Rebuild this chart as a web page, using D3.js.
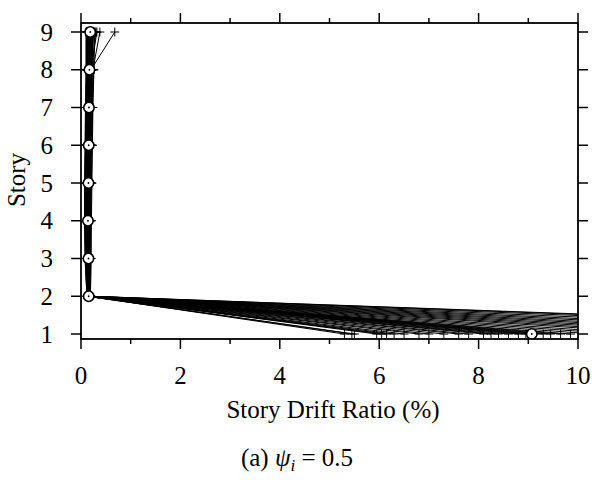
<!DOCTYPE html>
<html>
<head>
<meta charset="utf-8">
<script src="https://cdn.jsdelivr.net/npm/d3@7"></script>
<style>
  html, body { margin: 0; padding: 0; background: #fff; overflow: hidden; }
  svg { display: block; }
  svg text, svg tspan { font-family: "Liberation Serif", "Times New Roman", serif; }
</style>
</head>
<body>
<script>
// Story numbers (1 = ground story)
const stories = [1, 2, 3, 4, 5, 6, 7, 8, 9];

// Peak story drift ratio (%) per ground motion, stories 1..9
const drifts = [
  [5.30, 0.14, 0.12, 0.11, 0.12, 0.13, 0.14, 0.15, 0.16],
  [21.2, 0.18, 0.17, 0.16, 0.17, 0.18, 0.19, 0.21, 0.25],
  [8.10, 0.15, 0.13, 0.12, 0.13, 0.14, 0.15, 0.16, 0.17],
  [13.6, 0.17, 0.16, 0.15, 0.16, 0.18, 0.19, 0.20, 0.22],
  [6.30, 0.13, 0.10, 0.09, 0.10, 0.11, 0.12, 0.13, 0.14],
  [9.45, 0.16, 0.15, 0.14, 0.15, 0.16, 0.17, 0.18, 0.19],
  [7.30, 0.14, 0.12, 0.11, 0.12, 0.13, 0.14, 0.15, 0.15],
  [11.3, 0.17, 0.16, 0.15, 0.16, 0.17, 0.18, 0.20, 0.32],
  [5.95, 0.12, 0.09, 0.08, 0.08, 0.09, 0.10, 0.11, 0.12],
  [15.0, 0.18, 0.18, 0.17, 0.18, 0.19, 0.20, 0.22, 0.24],
  [8.60, 0.15, 0.14, 0.14, 0.15, 0.16, 0.17, 0.18, 0.20],
  [10.3, 0.16, 0.15, 0.15, 0.16, 0.17, 0.18, 0.19, 0.21],
  [6.80, 0.13, 0.11, 0.10, 0.10, 0.11, 0.12, 0.12, 0.13],
  [18.0, 0.19, 0.19, 0.18, 0.19, 0.20, 0.22, 0.24, 0.38],
  [9.12, 0.16, 0.15, 0.14, 0.14, 0.15, 0.15, 0.16, 0.17],
  [7.80, 0.14, 0.13, 0.12, 0.13, 0.14, 0.15, 0.16, 0.16],
  [12.4, 0.17, 0.17, 0.16, 0.16, 0.17, 0.18, 0.19, 0.20],
  [5.45, 0.12, 0.08, 0.07, 0.07, 0.08, 0.09, 0.10, 0.10],
  [9.85, 0.16, 0.16, 0.15, 0.15, 0.16, 0.17, 0.17, 0.18],
  [8.95, 0.15, 0.15, 0.14, 0.15, 0.15, 0.16, 0.17, 0.19],
  [16.8, 0.18, 0.19, 0.19, 0.20, 0.21, 0.23, 0.25, 0.28],
  [6.05, 0.13, 0.10, 0.09, 0.09, 0.10, 0.11, 0.11, 0.12],
  [14.3, 0.18, 0.17, 0.17, 0.18, 0.19, 0.20, 0.21, 0.23],
  [7.60, 0.14, 0.12, 0.12, 0.13, 0.13, 0.14, 0.15, 0.15],
  [9.65, 0.16, 0.15, 0.15, 0.16, 0.16, 0.17, 0.18, 0.20],
  [8.40, 0.15, 0.14, 0.13, 0.14, 0.15, 0.16, 0.16, 0.17],
  [19.4, 0.19, 0.20, 0.20, 0.21, 0.22, 0.23, 0.20, 0.68],
  [5.50, 0.12, 0.09, 0.08, 0.09, 0.09, 0.10, 0.11, 0.11],
  [11.9, 0.17, 0.16, 0.16, 0.17, 0.18, 0.19, 0.20, 0.22],
  [7.00, 0.14, 0.11, 0.10, 0.11, 0.12, 0.13, 0.13, 0.14],
  [9.02, 0.15, 0.14, 0.14, 0.14, 0.15, 0.16, 0.16, 0.18],
  [13.0, 0.17, 0.17, 0.16, 0.17, 0.18, 0.19, 0.21, 0.30],
  [6.50, 0.13, 0.11, 0.10, 0.11, 0.11, 0.12, 0.13, 0.13],
  [10.8, 0.16, 0.16, 0.15, 0.16, 0.17, 0.18, 0.19, 0.20],
  [8.25, 0.15, 0.13, 0.13, 0.14, 0.14, 0.15, 0.16, 0.17],
  [20.6, 0.19, 0.20, 0.21, 0.22, 0.23, 0.24, 0.26, 0.27],
  [6.15, 0.13, 0.10, 0.09, 0.10, 0.10, 0.11, 0.12, 0.13],
  [15.9, 0.18, 0.18, 0.17, 0.18, 0.20, 0.21, 0.22, 0.25],
  [9.30, 0.16, 0.15, 0.14, 0.15, 0.16, 0.16, 0.17, 0.19],
  [8.80, 0.15, 0.14, 0.13, 0.14, 0.15, 0.15, 0.16, 0.18]
];

// Axis ticks and labels
const xMajorTicks = [0, 2, 4, 6, 8, 10];
const xMinorTicks = [1, 3, 5, 7, 9];
const yTicks = [1, 2, 3, 4, 5, 6, 7, 8, 9];
const xTitle = "Story Drift Ratio (%)";
const yTitle = "Story";

const FONT = "Liberation Serif";
const FS = 25;
const W = 597, H = 482;
const frame = { left: 81, right: 578, top: 23, bottom: 339 };

const x = d3.scaleLinear().domain([0, 10]).range([frame.left, frame.right]);
const y = d3.scaleLinear().domain([1, 9]).range([334, 32]);

const svg = d3.select("body").append("svg")
  .attr("width", W).attr("height", H);

// text helper: serif label with explicit font settings
const label = (parent, str) => parent.append("text")
  .attr("font-family", FONT).attr("font-size", FS).attr("fill", "#000")
  .text(str);

// axis tick marks and tick labels, built from the scales
const tickGroup = svg.append("g").attr("stroke", "#000").attr("stroke-width", 1.5);
xMajorTicks.forEach(v => {
  tickGroup.append("line").attr("x1", x(v)).attr("x2", x(v))
    .attr("y1", frame.bottom).attr("y2", frame.bottom + 10);
  tickGroup.append("line").attr("x1", x(v)).attr("x2", x(v))
    .attr("y1", frame.top).attr("y2", frame.top - 10);
});
xMinorTicks.forEach(v => {
  tickGroup.append("line").attr("x1", x(v)).attr("x2", x(v))
    .attr("y1", frame.bottom).attr("y2", frame.bottom + 5);
  tickGroup.append("line").attr("x1", x(v)).attr("x2", x(v))
    .attr("y1", frame.top).attr("y2", frame.top - 5);
});
yTicks.forEach(v => {
  tickGroup.append("line").attr("x1", frame.left - 10).attr("x2", frame.left)
    .attr("y1", y(v)).attr("y2", y(v));
  tickGroup.append("line").attr("x1", frame.right).attr("x2", frame.right + 10)
    .attr("y1", y(v)).attr("y2", y(v));
});

const labels = svg.append("g");
xMajorTicks.forEach(v => {
  label(labels, d3.format("d")(v))
    .attr("x", x(v)).attr("y", 384).attr("text-anchor", "middle");
});
yTicks.forEach(v => {
  label(labels, d3.format("d")(v))
    .attr("x", 53).attr("y", y(v) + 8.5).attr("text-anchor", "end");
});

svg.append("defs").append("clipPath").attr("id", "plot-clip")
  .append("rect")
  .attr("x", frame.left).attr("y", frame.top)
  .attr("width", frame.right - frame.left)
  .attr("height", frame.bottom - frame.top);

const plot = svg.append("g").attr("clip-path", "url(#plot-clip)");

// one drift profile per ground motion
const line = d3.line().x(d => x(d[0])).y(d => y(d[1]));
const profiles = drifts.map(rec => rec.map((v, i) => [v, stories[i]]));

plot.selectAll("path.profile").data(profiles).join("path")
  .attr("class", "profile")
  .attr("d", line)
  .attr("fill", "none")
  .attr("stroke", "#000")
  .attr("stroke-width", 1);

// plus markers at every point of a profile (one path per profile)
const arm = 4.5;
plot.selectAll("path.plus").data(profiles).join("path")
  .attr("class", "plus")
  .attr("d", prof => prof.map(d => {
    const px = x(d[0]), py = y(d[1]);
    return `M${px - arm},${py}H${px + arm}M${px},${py - arm}V${py + arm}`;
  }).join(""))
  .attr("stroke", "#000")
  .attr("stroke-width", 1)
  .attr("fill", "none");

// median drift per story
const medians = stories.map((s, i) => [d3.median(drifts, r => r[i]), s]);
const med = plot.selectAll("g.median").data(medians).join("g")
  .attr("class", "median")
  .attr("transform", d => `translate(${x(d[0])},${y(d[1])})`);
med.append("circle").attr("r", 5.2)
  .attr("fill", "#fff").attr("stroke", "#000").attr("stroke-width", 1.6);
med.append("circle").attr("r", 0.9).attr("fill", "#000");

// frame
svg.append("rect")
  .attr("x", frame.left).attr("y", frame.top)
  .attr("width", frame.right - frame.left)
  .attr("height", frame.bottom - frame.top)
  .attr("fill", "none").attr("stroke", "#000").attr("stroke-width", 1.8);

// titles
label(svg, xTitle).attr("x", 333).attr("y", 418).attr("text-anchor", "middle");
label(svg, yTitle).attr("transform", "translate(25,180) rotate(-90)")
  .attr("text-anchor", "middle");

// caption
const cap = label(svg, "").attr("x", 297).attr("y", 466).attr("text-anchor", "middle");
cap.append("tspan").text("(a) ");
cap.append("tspan").attr("font-style", "italic").text("ψ");
cap.append("tspan").attr("font-style", "italic").attr("font-size", 17)
  .attr("dy", 5).text("i");
cap.append("tspan").attr("dy", -5).text(" = 0.5");
</script>
</body>
</html>
